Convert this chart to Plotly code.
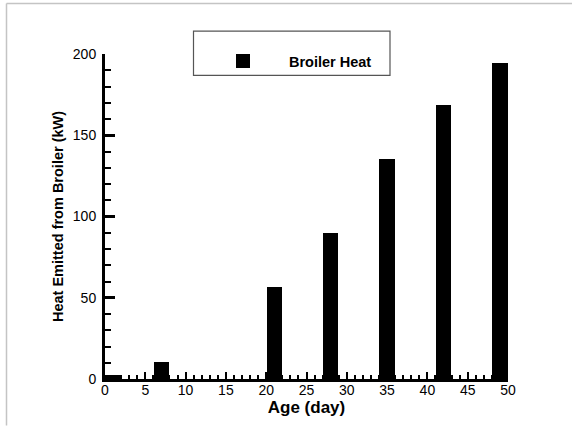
import plotly.graph_objects as go

# Broiler heat output by bird age
age_days = [1, 7, 21, 28, 35, 42, 49]
heat_kw = [2, 10, 56, 89, 135, 168, 194]
series_name = "Broiler Heat"

x_title = "Age (day)"
y_title = "Heat Emitted from Broiler (kW)"
x_ticks = list(range(0, 51, 5))
y_ticks = list(range(0, 201, 50))

FONT = "Liberation Sans, Arial, sans-serif"
W, H = 572, 426
L, R, T, B = 105, 64, 54, 46.5
PW, PH = W - L - R, H - T - B


def px_x(p):
    return (p - L) / PW


def px_y(p):
    return (H - B - p) / PH


fig = go.Figure(
    go.Bar(
        x=age_days,
        y=heat_kw,
        name=series_name,
        width=1.65,
        marker=dict(color="black", line=dict(color="black", width=2)),
        showlegend=True,
    )
)

axis_common = dict(
    showgrid=False,
    zeroline=False,
    showline=True,
    linecolor="black",
    linewidth=3,
    ticks="inside",
    tickcolor="black",
    tickfont=dict(family=FONT, size=14, color="black"),
    mirror=False,
)

fig.update_xaxes(
    **axis_common,
    range=[0, 50],
    tickvals=x_ticks,
    ticklen=7,
    tickwidth=2,
    ticklabelstandoff=-4,
    minor=dict(ticks="inside", dtick=1, ticklen=4, tickwidth=1.5, tickcolor="black"),
    title=dict(text=x_title, font=dict(family=FONT, size=17, color="black", weight="bold"), standoff=2),
)
fig.update_yaxes(
    **axis_common,
    range=[0, 200],
    tickvals=y_ticks,
    ticklen=10,
    tickwidth=2.5,
    ticklabelstandoff=3,
    minor=dict(ticks="inside", dtick=10, ticklen=6, tickwidth=1.5, tickcolor="black"),
    title=dict(text=y_title, font=dict(family=FONT, size=14.5, color="black", weight="bold"), standoff=6),
)

# outer frame lines (top and left) and the legend box
frame = dict(color="#c4c4c4", width=1.5)
shapes = [
    dict(type="line", xref="paper", yref="paper",
         x0=px_x(6.5), x1=px_x(W), y0=px_y(3.5), y1=px_y(3.5), line=frame),
    dict(type="line", xref="paper", yref="paper",
         x0=px_x(6.5), x1=px_x(6.5), y0=px_y(3.5), y1=px_y(H), line=frame),
    dict(type="rect", xref="paper", yref="paper",
         x0=px_x(193.5), x1=px_x(390), y0=px_y(31), y1=px_y(75.5),
         line=dict(color="#555555", width=1.2), fillcolor="rgba(0,0,0,0)"),
]

fig.update_layout(
    width=W,
    height=H,
    margin=dict(l=L, r=R, t=T, b=B, autoexpand=False),
    paper_bgcolor="white",
    plot_bgcolor="white",
    bargap=0,
    shapes=shapes,
    showlegend=True,
    legend=dict(
        x=px_x(197),
        y=px_y(45),
        xanchor="left",
        yanchor="top",
        bgcolor="rgba(0,0,0,0)",
        borderwidth=0,
        itemwidth=82,
        font=dict(family=FONT, size=14.5, color="black", weight="bold"),
    ),
)

fig.write_html("out.html")
